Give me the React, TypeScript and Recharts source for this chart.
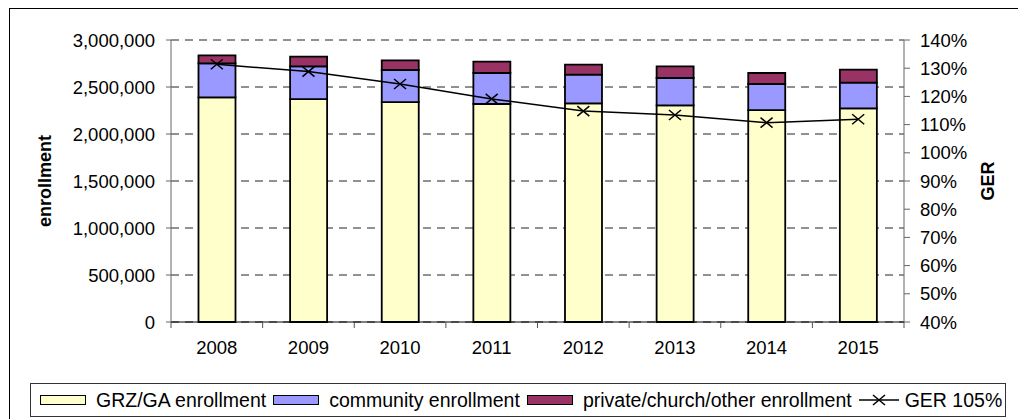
import React from "react";
import {
  ComposedChart,
  Bar,
  Line,
  XAxis,
  YAxis,
  CartesianGrid,
} from "recharts";

const years = ["2008", "2009", "2010", "2011", "2012", "2013", "2014", "2015"];
const grzEnrollment = [2390000, 2372000, 2340000, 2319000, 2326000, 2305000, 2255000, 2273000];
const communityEnrollment = [362000, 348000, 341000, 330000, 305000, 291000, 277000, 273000];
const privateEnrollment = [85000, 103000, 103000, 120000, 106000, 124000, 117000, 138000];
const ger = [131.4, 128.8, 124.4, 119.1, 114.8, 113.4, 110.7, 111.9];

const enrollmentTicks = [0, 500000, 1000000, 1500000, 2000000, 2500000, 3000000];
const gerTicks = [40, 50, 60, 70, 80, 90, 100, 110, 120, 130, 140];

const data = years.map((year, i) => ({
  year,
  grz: grzEnrollment[i],
  community: communityEnrollment[i],
  priv: privateEnrollment[i],
  ger: ger[i],
}));

const FONT = "'Liberation Sans', Arial, sans-serif";
const W = 1018;
const H = 419;
const margin = { top: 40, right: 30, bottom: 57, left: 45 };
const LEFT_W = 126;
const RIGHT_W = 84;
const band = (W - margin.left - margin.right - LEFT_W - RIGHT_W) / years.length;

const YearTick = (props: any) => {
  const { x, y, payload, index } = props;
  return (
    <g>
      <line x1={x - band / 2} y1={y} x2={x - band / 2} y2={y + 6} stroke="#555" />
      {index === years.length - 1 && (
        <line x1={x + band / 2} y1={y} x2={x + band / 2} y2={y + 6} stroke="#555" />
      )}
      <text x={x} y={y + 32} textAnchor="middle" fontSize={18.5} fontFamily={FONT} fill="#000">
        {payload.value}
      </text>
    </g>
  );
};

const CrossDot = (props: any) => {
  const { cx, cy } = props;
  if (cx == null || cy == null) return null;
  return (
    <g>
      <line x1={cx - 6} y1={cy - 5} x2={cx + 6} y2={cy + 5} stroke="#000" strokeWidth={1.5} />
      <line x1={cx - 6} y1={cy + 5} x2={cx + 6} y2={cy - 5} stroke="#000" strokeWidth={1.5} />
    </g>
  );
};

const Swatch = ({ color }: { color: string }) => (
  <span
    style={{
      display: "inline-block",
      width: 44,
      height: 8,
      background: color,
      border: "1.5px solid #000",
      marginRight: 10,
    }}
  />
);

const legendItems = [
  { label: "GRZ/GA enrollment", color: "#FFFFCC" },
  { label: "community enrollment", color: "#9999FF" },
  { label: "private/church/other enrollment", color: "#993366" },
];

export default function App() {
  return (
    <div style={{ position: "relative", width: W, height: H, overflow: "hidden", background: "#fff" }}>
      <style>{`body{margin:0;overflow:hidden}`}</style>
      <div
        style={{
          position: "absolute",
          left: 9,
          top: 8,
          width: 1100,
          height: 500,
          borderLeft: "1px solid #000",
          borderTop: "1px solid #000",
        }}
      />
      <div style={{ position: "absolute", left: 0, top: 0 }}>
        <ComposedChart width={W} height={H} data={data} margin={margin} barCategoryGap="30%">
          <CartesianGrid
            yAxisId="left"
            vertical={false}
            stroke="#222"
            strokeDasharray="8 6"
          />
          <XAxis
            dataKey="year"
            height={40}
            tickLine={false}
            tickSize={0}
            tickMargin={0}
            stroke="#000"
            tick={<YearTick />}
            interval={0}
          />
          <YAxis
            yAxisId="left"
            width={LEFT_W}
            domain={[0, 3000000]}
            ticks={enrollmentTicks}
            tickFormatter={(v: number) => v.toLocaleString("en-US")}
            stroke="#666"
            tickSize={5}
            tickMargin={11}
            tick={{ fill: "#000", fontSize: 18.5, fontFamily: FONT }}
            label={{
              value: "enrollment",
              angle: -90,
              position: "insideLeft",
              offset: 0,
              style: { textAnchor: "middle", fontWeight: "bold", fontSize: 18, fontFamily: FONT, fill: "#000" },
            }}
          />
          <YAxis
            yAxisId="right"
            orientation="right"
            width={RIGHT_W}
            domain={[40, 140]}
            ticks={gerTicks}
            tickFormatter={(v: number) => `${v}%`}
            stroke="#666"
            tickSize={6}
            tickMargin={10}
            tick={{ fill: "#000", fontSize: 18.5, fontFamily: FONT }}
            label={{
              value: "GER",
              angle: -90,
              position: "insideRight",
              offset: 0,
              style: { textAnchor: "middle", fontWeight: "bold", fontSize: 18, fontFamily: FONT, fill: "#000" },
            }}
          />
          <Bar yAxisId="left" dataKey="grz" stackId="e" fill="#FFFFCC" stroke="#000" strokeWidth={1.8} isAnimationActive={false} />
          <Bar yAxisId="left" dataKey="community" stackId="e" fill="#9999FF" stroke="#000" strokeWidth={1.8} isAnimationActive={false} />
          <Bar yAxisId="left" dataKey="priv" stackId="e" fill="#993366" stroke="#000" strokeWidth={1.8} isAnimationActive={false} />
          <Line
            yAxisId="right"
            dataKey="ger"
            stroke="#000"
            strokeWidth={1.5}
            dot={<CrossDot />}
            activeDot={false}
            isAnimationActive={false}
          />
        </ComposedChart>
      </div>
      <div
        style={{
          position: "absolute",
          left: 30,
          top: 383,
          width: 976,
          height: 34,
          boxSizing: "border-box",
          border: "1px solid #333",
          background: "#fff",
          display: "flex",
          alignItems: "center",
          paddingLeft: 9,
          fontFamily: FONT,
          fontSize: 19.5,
          whiteSpace: "nowrap",
        }}
      >
        {legendItems.map((it) => (
          <span key={it.label} style={{ display: "inline-flex", alignItems: "center", marginRight: 7 }}>
            <Swatch color={it.color} />
            {it.label}
          </span>
        ))}
        <span style={{ display: "inline-flex", alignItems: "center" }}>
          <svg width={40} height={14} style={{ marginRight: 6 }}>
            <line x1={0} y1={7} x2={40} y2={7} stroke="#000" strokeWidth={1.5} />
            <line x1={14} y1={2} x2={26} y2={12} stroke="#000" strokeWidth={1.5} />
            <line x1={14} y1={12} x2={26} y2={2} stroke="#000" strokeWidth={1.5} />
          </svg>
          GER 105%
        </span>
      </div>
    </div>
  );
}
